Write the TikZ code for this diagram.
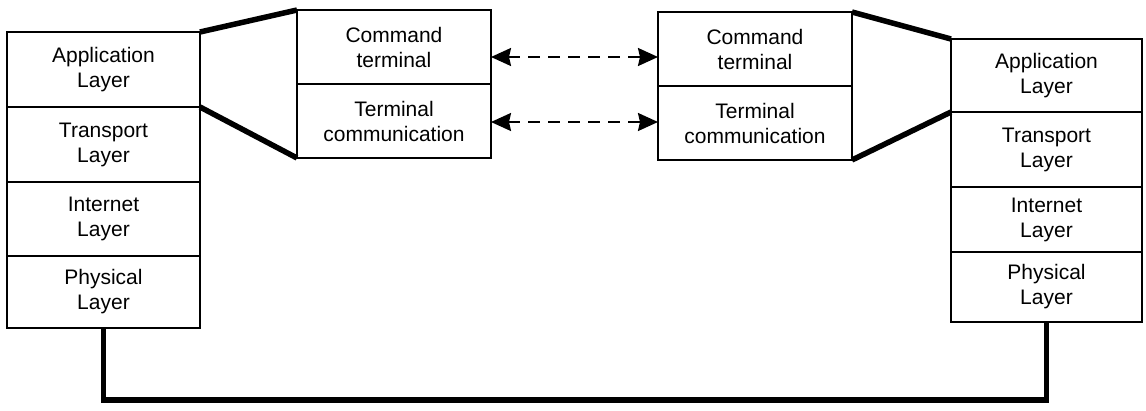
\documentclass[tikz,border=0pt]{standalone}
\usepackage{fontspec}
\setmainfont{Liberation Sans}
\usetikzlibrary{arrows.meta}
\begin{document}
\begin{tikzpicture}[x=1pt,y=-1pt,
  cell/.style={draw, line width=1.5pt, anchor=north west, outer sep=0pt, inner sep=0pt,
    align=center, font=\fontsize{21}{25}\selectfont},
  thickline/.style={line width=5.5pt},
  dasharrow/.style={line width=2pt, dash pattern=on 12pt off 8pt,
    arrows={Stealth[length=20pt,width=18pt,inset=2pt]-Stealth[length=20pt,width=18pt,inset=2pt]}}]
\useasboundingbox (0,0) rectangle (1146,410);
% left stack
\node[cell, minimum width=193pt, minimum height=75pt] (la) at (7,32) {Application\\Layer};
\node[cell, minimum width=193pt, minimum height=75pt] (lt) at (7,107) {Transport\\Layer};
\node[cell, minimum width=193pt, minimum height=74pt] (li) at (7,182) {Internet\\Layer};
\node[cell, minimum width=193pt, minimum height=72pt] (lp) at (7,256) {Physical\\Layer};
% middle left
\node[cell, minimum width=194pt, minimum height=74pt] (ml1) at (297,10) {Command\\terminal};
\node[cell, minimum width=194pt, minimum height=74pt] (ml2) at (297,84) {Terminal\\communication};
% middle right
\node[cell, minimum width=194pt, minimum height=74pt] (mr1) at (658,12) {Command\\terminal};
\node[cell, minimum width=194pt, minimum height=74pt] (mr2) at (658,86) {Terminal\\communication};
% right stack
\node[cell, minimum width=191pt, minimum height=73pt] (ra) at (951,39) {Application\\Layer};
\node[cell, minimum width=191pt, minimum height=75pt] (rt) at (951,112) {Transport\\Layer};
\node[cell, minimum width=191pt, minimum height=65pt] (ri) at (951,187) {Internet\\Layer};
\node[cell, minimum width=191pt, minimum height=70pt] (rp) at (951,252) {Physical\\Layer};
% thick connectors
\draw[thickline] (la.north east) -- (ml1.north west);
\draw[thickline] (la.south east) -- (ml2.south west);
\draw[thickline] (mr1.north east) -- (ra.north west);
\draw[thickline] (mr2.south east) -- (ra.south west);
% dashed arrows
\draw[dasharrow] ([yshift=-10pt]ml1.east) -- ([yshift=-10pt]ml1.east -| mr1.west);
\draw[dasharrow] ([yshift=-1pt]ml2.east) -- ([yshift=-1pt]ml2.east -| mr2.west);
% bottom link
\draw[line width=5.5pt, line join=miter] (lp.south) -- ++(0,72) -| (rp.south);
\end{tikzpicture}
\end{document}
